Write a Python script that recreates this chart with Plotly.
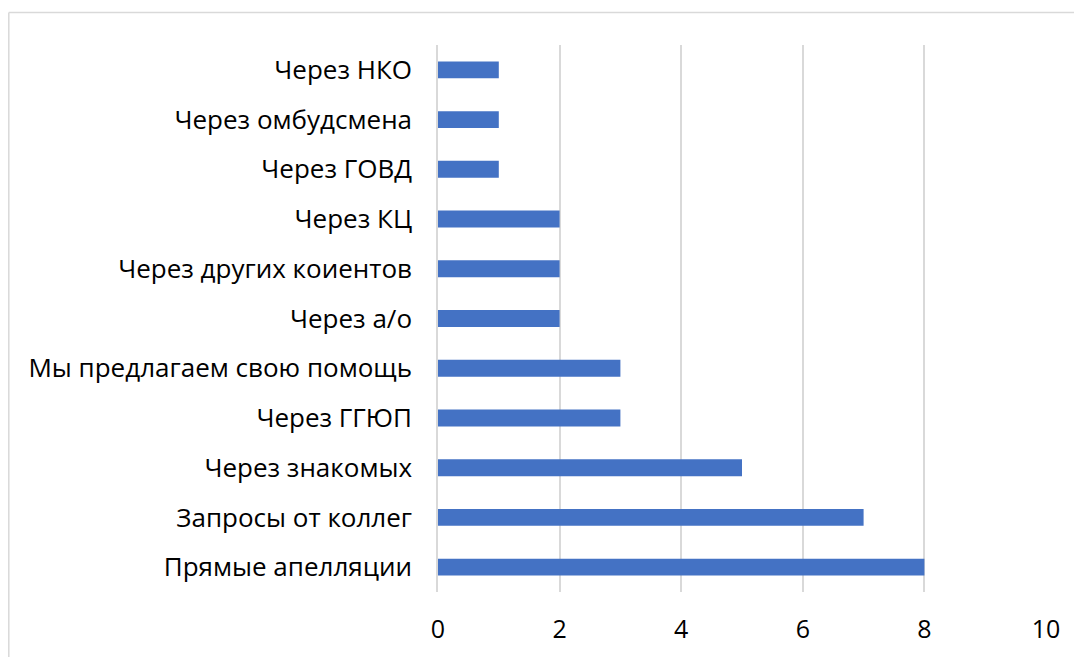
import plotly.graph_objects as go

# categories listed bottom to top
categories = [
    "Прямые апелляции",
    "Запросы от коллег",
    "Через знакомых",
    "Через ГГЮП",
    "Мы предлагаем свою помощь",
    "Через а/о",
    "Через других коиентов",
    "Через КЦ",
    "Через ГОВД",
    "Через омбудсмена",
    "Через НКО",
]
values = [8, 7, 5, 3, 3, 2, 2, 2, 1, 1, 1]
x_ticks = [0, 2, 4, 6, 8, 10]

# page has an 8px body margin, so figure pixels = page pixels - 8
OFF = 8
W, H = 1082 - OFF, 657 - OFF
L, T = 438 - OFF, 45 - OFF
R = W - (1046 - OFF)
B = H - (592 - OFF)
pw, ph = W - L - R, H - T - B

fig = go.Figure()
fig.add_trace(go.Bar(
    x=values, y=categories, orientation="h",
    marker=dict(color="#4472C4", line=dict(width=0)),
    hovertemplate="%{y}: %{x}<extra></extra>",
))

# chart frame: only top and left edges show in the crop
def px_x(p):
    return (p - OFF - L) / pw

def px_y(p):
    return (H - B - (p - OFF)) / ph

grey = "#D9D9D9"
fig.add_shape(type="line", xref="paper", yref="paper",
              x0=px_x(8.8), x1=px_x(1090), y0=px_y(12.5), y1=px_y(12.5),
              line=dict(color=grey, width=1.5))
fig.add_shape(type="line", xref="paper", yref="paper",
              x0=px_x(8.8), x1=px_x(8.8), y0=px_y(12.5), y1=px_y(670),
              line=dict(color=grey, width=1.5))

fig.update_layout(
    width=W, height=H,
    margin=dict(l=L, r=R, t=T, b=B, autoexpand=False),
    paper_bgcolor="white", plot_bgcolor="white",
    font=dict(family="Open Sans", size=26, color="#000000"),
    bargap=0.66,
    showlegend=False,
)
fig.update_xaxes(
    range=[0, 10], tickvals=x_ticks, showgrid=True, gridcolor=grey, gridwidth=1.5,
    zeroline=False, showline=False, ticks="", ticklabelstandoff=20,
    tickfont=dict(size=25), fixedrange=True,
)
fig.update_yaxes(
    categoryorder="array", categoryarray=categories,
    showgrid=False, showline=True, linecolor=grey, linewidth=1.5,
    ticks="", ticklabelstandoff=19, fixedrange=True,
)

fig.write_html("out.html")
